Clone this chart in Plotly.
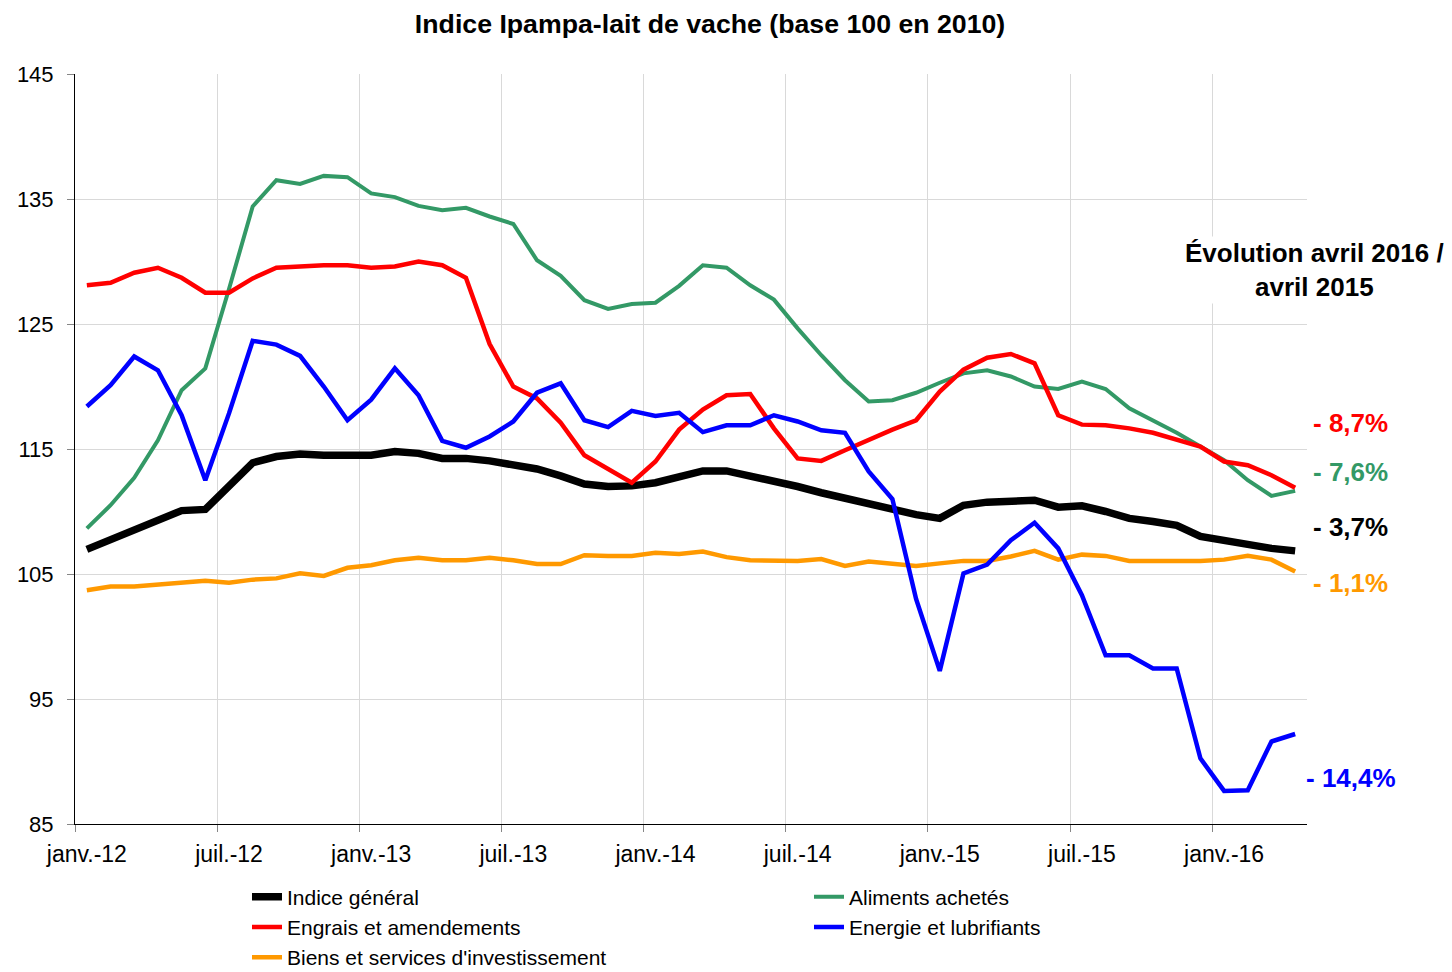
import plotly.graph_objects as go

# Months from janv.-12 to avril-16 (52 monthly points), labels every 6 months
months = list(range(52))
tick_pos = [0, 6, 12, 18, 24, 30, 36, 42, 48]
tick_labels = ["janv.-12", "juil.-12", "janv.-13", "juil.-13", "janv.-14",
               "juil.-14", "janv.-15", "juil.-15", "janv.-16"]

indice_general = [
    106.97, 107.72, 108.47, 109.27, 110.07, 110.17, 112.0, 113.9, 114.4, 114.6,
    114.5, 114.5, 114.5, 114.8, 114.65, 114.25, 114.25, 114.05, 113.8, 113.4,
    112.85, 112.2, 112.0, 112.05, 112.3, 112.8, 113.25, 113.25, 112.85, 112.55,
    112.0, 111.5, 111.05, 110.5, 110.1, 109.75, 109.45, 110.5, 110.75, 110.9,
    110.9, 110.35, 110.45, 110.0, 109.45, 109.2, 108.9, 108.0, 107.65, 107.25,
    107.05, 106.85,
]
aliments = [
    108.65, 110.5, 112.7, 115.7, 119.7, 121.45, 127.8, 134.4, 136.5, 136.2,
    136.85, 136.75, 135.45, 135.15, 134.45, 134.1, 134.3, 133.6, 133.0, 130.1,
    128.85, 126.9, 126.2, 126.6, 126.7, 128.05, 129.7, 129.5, 128.1, 126.95,
    124.65, 122.5, 120.5, 118.8, 118.9, 119.5, 120.3, 121.05, 121.3, 120.8,
    120.0, 119.8, 120.4, 119.8, 118.25, 117.3, 116.3, 115.2, 114.1, 112.5,
    111.25, 111.65,
]
engrais = [
    128.1, 128.3, 129.1, 129.5, 128.7, 127.5, 127.5, 128.65, 129.5, 129.6,
    129.7, 129.7, 129.5, 129.6, 130.0, 129.7, 128.7, 123.4, 120.0, 119.05,
    117.1, 114.5, 113.35, 112.3, 114.0, 116.55, 118.15, 119.3, 119.4, 116.65,
    114.25, 114.05, 114.9, 115.75, 116.55, 117.3, 119.6, 121.35, 122.3, 122.6,
    121.85, 117.7, 116.95, 116.9, 116.65, 116.3, 115.75, 115.2, 114.0, 113.7,
    112.9, 111.9,
]
energie = [
    118.4, 120.1, 122.4, 121.3, 117.7, 112.5, 117.85, 123.65, 123.35, 122.45,
    120.0, 117.3, 118.95, 121.45, 119.3, 115.65, 115.1, 116.0, 117.2, 119.5,
    120.25, 117.3, 116.75, 118.05, 117.65, 117.9, 116.35, 116.9, 116.9, 117.7,
    117.2, 116.5, 116.3, 113.2, 111.0, 103.0, 97.25, 105.05, 105.75, 107.7,
    109.1, 107.05, 103.3, 98.5, 98.5, 97.45, 97.45, 90.25, 87.65, 87.7,
    91.6, 92.2,
]
biens = [
    103.7, 104.0, 104.0, 104.15, 104.3, 104.45, 104.3, 104.55, 104.65, 105.05,
    104.85, 105.5, 105.7, 106.1, 106.3, 106.1, 106.1, 106.3, 106.1, 105.8,
    105.8, 106.5, 106.45, 106.45, 106.7, 106.6, 106.8, 106.35, 106.1, 106.1,
    106.05, 106.2, 105.65, 106.0, 105.85, 105.65, 105.85, 106.05, 106.05, 106.4,
    106.85, 106.15, 106.55, 106.45, 106.05, 106.05, 106.1, 106.05, 106.15, 106.45,
    106.15, 105.2,
]

# Year-on-year change april 2016 / april 2015, shown at the right of the chart
evolution_labels = ["- 8,7%", "- 7,6%", "- 3,7%", "- 1,1%", "- 14,4%"]
evolution_y = [117.1, 113.2, 108.8, 104.3, 88.7]
evolution_colors = ["#ff0000", "#339966", "#000000", "#ff9900", "#0000ff"]

FONT = "Liberation Sans, Arial, sans-serif"

# (name, values, color, width, legend rank) - drawing order
series = [
    ("Indice général", indice_general, "#000000", 7.5, 1),
    ("Aliments achetés", aliments, "#339966", 4, 2),
    ("Engrais et amendements", engrais, "#ff0000", 4.5, 3),
    ("Biens et services d'investissement", biens, "#ff9900", 4.5, 5),
    ("Energie et lubrifiants", energie, "#0000ff", 4.5, 4),
]

fig = go.Figure()
for name, values, color, width, rank in series:
    fig.add_trace(go.Scatter(
        x=months, y=values, name=name, mode="lines",
        line=dict(color=color, width=width),
        legendrank=rank,
    ))

for text, y, color in zip(evolution_labels, evolution_y, evolution_colors):
    fig.add_annotation(
        x=1.0357, xref="paper", y=y, yref="y", text=f"<b>{text}</b>",
        showarrow=False, font=dict(family=FONT, size=26, color=color),
        xanchor="center", yanchor="middle",
    )

fig.add_annotation(
    x=1.0057, xref="paper", y=0.7387, yref="paper",
    text="<b>Évolution avril 2016 /<br>avril 2015</b>",
    showarrow=False, font=dict(family=FONT, size=26, color="black"),
    xanchor="center", yanchor="middle", align="center",
    bgcolor="white",
)

# the page body adds an 8px offset, margins are reduced accordingly
fig.update_layout(
    width=1452, height=972,
    margin=dict(l=67, r=153, t=66, b=156),
    paper_bgcolor="white", plot_bgcolor="white",
    font=dict(family=FONT, size=22, color="black"),
    title=dict(
        text="<b>Indice Ipampa-lait de vache (base 100 en 2010)</b>",
        x=0.4835, xanchor="center", y=0.9835, yanchor="middle",
        font=dict(family=FONT, size=26.7, color="black"),
    ),
    xaxis=dict(
        range=[-0.5, 51.5], tickmode="array", tickvals=tick_pos, ticktext=tick_labels,
        ticks="", showgrid=False, zeroline=False, automargin=False,
        showline=True, linecolor="black", linewidth=1,
        ticklabelstandoff=9, tickfont=dict(size=23),
        minor=dict(
            tickmode="array", tickvals=[p - 0.5 for p in tick_pos],
            ticks="outside", ticklen=7, tickcolor="#868686",
            showgrid=True, gridcolor="#d9d9d9", gridwidth=1,
        ),
    ),
    yaxis=dict(
        range=[85, 145], dtick=10, tick0=85, automargin=False,
        ticks="outside", ticklen=7, tickcolor="#868686",
        showgrid=True, gridcolor="#d9d9d9", gridwidth=1,
        zeroline=False, showline=True, linecolor="black", linewidth=1,
        ticklabelstandoff=9,
    ),
    legend=dict(
        orientation="h", xref="container", yref="container",
        x=0.1646, xanchor="left", y=0.1065, yanchor="top",
        entrywidth=517, entrywidthmode="pixels",
        font=dict(family=FONT, size=21), bgcolor="rgba(0,0,0,0)",
        tracegroupgap=0,
    ),
    showlegend=True,
)

fig.write_html("out.html")
